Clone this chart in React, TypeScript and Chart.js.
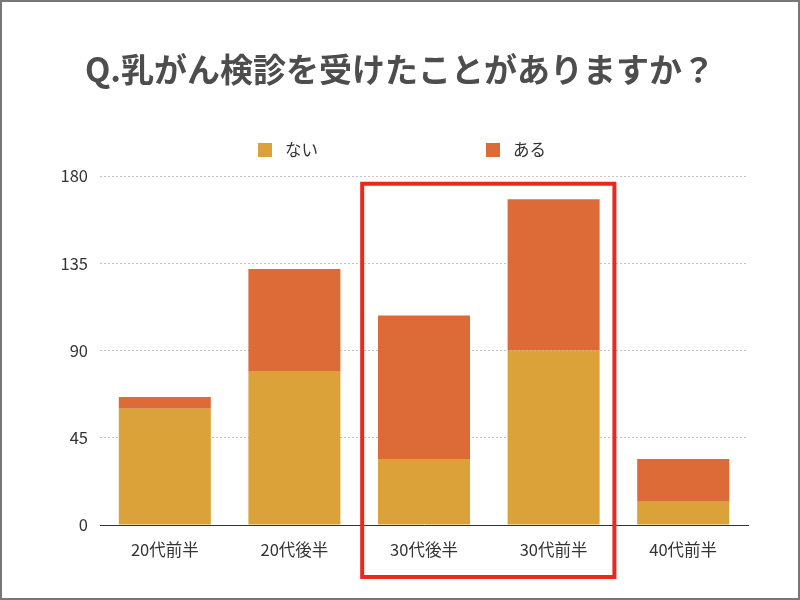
import React, { useEffect, useRef } from "react";
import { Chart, registerables } from "chart.js";

Chart.register(...registerables);

const categories = ["20代前半", "20代後半", "30代後半", "30代前半", "40代前半"];
const naiValues = [60, 79, 34, 90, 12];
const aruValues = [6, 53, 74, 78, 22];
const seriesLabels = ["ない", "ある"];
const seriesColors = ["#DBA23A", "#DC6B37"];
const yTicks = [0, 45, 90, 135, 180];
const titleText = "Q.乳がん検診を受けたことがありますか？";
const highlightFrom = "30代後半";
const highlightTo = "30代前半";

const FONT = "'Noto Sans CJK JP', 'Noto Sans', sans-serif";

const framePlugin = {
  id: "frame",
  beforeDraw(chart: any) {
    const { ctx, width, height } = chart;
    ctx.save();
    ctx.fillStyle = "#ffffff";
    ctx.fillRect(0, 0, width, height);
    ctx.restore();
  },
  afterDraw(chart: any) {
    const { ctx, width, height } = chart;
    ctx.save();
    ctx.strokeStyle = "#777777";
    ctx.lineWidth = 2;
    ctx.strokeRect(1, 1, width - 2, height - 2);
    ctx.restore();
  },
};

const legendPlugin = {
  id: "wideLegend",
  afterDraw(chart: any) {
    const { ctx } = chart;
    const positions = [258, 486];
    const y = 150;
    ctx.save();
    ctx.font = `16.5px ${FONT}`;
    ctx.textBaseline = "middle";
    ctx.textAlign = "left";
    chart.data.datasets.forEach((ds: any, i: number) => {
      const x = positions[i];
      ctx.fillStyle = ds.backgroundColor;
      ctx.fillRect(x, y - 7, 14, 14);
      ctx.fillStyle = "#333333";
      ctx.fillText(ds.label, x + 27, y);
    });
    ctx.restore();
  },
};

const highlightPlugin = {
  id: "highlight",
  afterDatasetsDraw(chart: any) {
    const xs = chart.scales.x;
    const ys = chart.scales.y;
    const i0 = categories.indexOf(highlightFrom);
    const i1 = categories.indexOf(highlightTo);
    const half = (xs.getPixelForValue(1) - xs.getPixelForValue(0)) / 2;
    const left = xs.getPixelForValue(i0) - half + 3;
    const right = xs.getPixelForValue(i1) + half - 4;
    const top = ys.getPixelForValue(176);
    const bottom = chart.chartArea.bottom + 52;
    const { ctx } = chart;
    ctx.save();
    ctx.strokeStyle = "#E8291C";
    ctx.lineWidth = 4;
    ctx.strokeRect(left, top, right - left, bottom - top);
    ctx.restore();
  },
};

export default function App() {
  const ref = useRef<HTMLCanvasElement>(null);

  useEffect(() => {
    document.body.style.margin = "0";
    if (!ref.current) return;
    const chart = new Chart(ref.current, {
      type: "bar",
      data: {
        labels: categories,
        datasets: [
          {
            label: seriesLabels[0],
            data: naiValues,
            backgroundColor: seriesColors[0],
            categoryPercentage: 1,
            barPercentage: 0.71,
          },
          {
            label: seriesLabels[1],
            data: aruValues,
            backgroundColor: seriesColors[1],
            categoryPercentage: 1,
            barPercentage: 0.71,
          },
        ],
      },
      options: {
        responsive: false,
        animation: false,
        layout: { padding: { top: 0, right: 52, bottom: 0, left: 52 } },
        plugins: {
          legend: { display: false },
          tooltip: { enabled: false },
          title: {
            display: true,
            text: titleText,
            color: "#4D4D4D",
            font: { family: FONT, size: 33, weight: "bold" },
            padding: { top: 50, bottom: 86.4 },
          },
        },
        scales: {
          x: {
            stacked: true,
            grid: { display: false },
            border: { display: true, color: "#333333", width: 1 },
            ticks: { color: "#333333", font: { family: FONT, size: 16.5 }, padding: 7 },
            afterFit: (scale: any) => {
              scale.height = 75;
            },
          },
          y: {
            stacked: true,
            min: 0,
            max: 180,
            afterBuildTicks: (scale: any) => {
              scale.ticks = yTicks.map((v) => ({ value: v }));
            },
            grid: {
              color: "#C4C4C4",
              drawTicks: false,
            },
            border: { display: false, dash: [2, 2] },
            ticks: { color: "#333333", font: { family: FONT, size: 16.5 }, padding: 12 },
            afterFit: (scale: any) => {
              scale.width = 48;
            },
          },
        },
      },
      plugins: [framePlugin, legendPlugin, highlightPlugin],
    } as any);
    return () => chart.destroy();
  }, []);

  return (
    <div style={{ width: 800, height: 600 }}>
      <canvas ref={ref} width={800} height={600} />
    </div>
  );
}
